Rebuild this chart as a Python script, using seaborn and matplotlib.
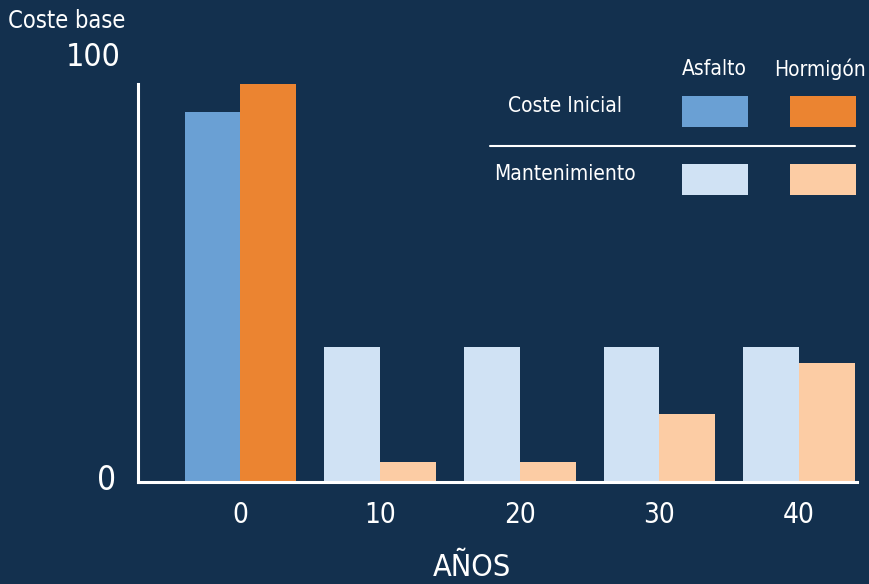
import matplotlib
matplotlib.use("Agg")
import matplotlib.pyplot as plt
import seaborn as sns
import pandas as pd
from matplotlib.patches import Rectangle
from matplotlib.lines import Line2D

# ---- data ----
years = ["0", "10", "20", "30", "40"]
materials = ["Asfalto", "Hormigón"]
initial_years = ["0"]
initial_asfalto = [93]
initial_hormigon = [100]
mant_years = ["10", "20", "30", "40"]
mant_asfalto = [34, 34, 34, 34]
mant_hormigon = [5, 5, 17, 30]
row_labels = ["Coste Inicial", "Mantenimiento"]

# ---- style ----
BG = "#13304e"
C_ASF_INI = "#6aa0d4"
C_HOR_INI = "#eb8431"
C_ASF_MAN = "#d0e2f4"
C_HOR_MAN = "#fccca4"
WHITE = "#ffffff"

sns.set_theme(style="white")
plt.rcParams['font.family'] = ['DejaVu Sans']
plt.rcParams['font.stretch'] = 'condensed'

W, H = 869, 584
fig = plt.figure(figsize=(W / 100, H / 100), dpi=100, facecolor=BG)
ax = fig.add_axes([138 / W, (H - 482) / H, (857 - 138) / W, (482 - 84) / H])
ax.set_facecolor(BG)

df_ini = pd.DataFrame({
    "year": initial_years * 2,
    "material": ["Asfalto"] * len(initial_years) + ["Hormigón"] * len(initial_years),
    "cost": initial_asfalto + initial_hormigon,
})
df_man = pd.DataFrame({
    "year": mant_years * 2,
    "material": ["Asfalto"] * len(mant_years) + ["Hormigón"] * len(mant_years),
    "cost": mant_asfalto + mant_hormigon,
})

common = dict(x="year", y="cost", hue="material", order=years, hue_order=materials,
              width=0.80, gap=0, saturation=1, legend=False, errorbar=None, ax=ax,
              linewidth=0)
sns.barplot(data=df_ini, palette=[C_ASF_INI, C_HOR_INI], **common)
sns.barplot(data=df_man, palette=[C_ASF_MAN, C_HOR_MAN], **common)

ax.set_ylim(0, 100)
ax.set_xlim(-0.733, 4.414)
for s in ["top", "right"]:
    ax.spines[s].set_visible(False)
for s in ["left", "bottom"]:
    ax.spines[s].set_color(WHITE)
    ax.spines[s].set_linewidth(2.2)
ax.set_yticks([])
ax.set_ylabel("")
ax.tick_params(axis="x", length=0, pad=14, labelsize=20, labelcolor=WHITE)
ax.set_xlabel("")

# axis texts
fig.text(472 / W, 1 - 567 / H, "AÑOS", ha="center", va="center", color=WHITE, fontsize=22)
fig.text(116 / W, 1 - 480 / H, "0", ha="right", va="center", color=WHITE, fontsize=24)
fig.text(121 / W, 1 - 57 / H, "100", ha="right", va="center", color=WHITE, fontsize=23)
fig.text(8 / W, 1 - 21 / H, "Coste base", ha="left", va="center", color=WHITE, fontsize=17)

# custom legend table
fig.text(714 / W, 1 - 69 / H, materials[0], ha="center", va="center", color=WHITE, fontsize=15)
fig.text(820 / W, 1 - 69 / H, materials[1], ha="center", va="center", color=WHITE, fontsize=15)
fig.text(565 / W, 1 - 106 / H, row_labels[0], ha="center", va="center", color=WHITE, fontsize=15)
fig.text(565 / W, 1 - 174 / H, row_labels[1], ha="center", va="center", color=WHITE, fontsize=15)

def swatch(x0, y0, x1, y1, color):
    fig.add_artist(Rectangle((x0 / W, 1 - y1 / H), (x1 - x0) / W, (y1 - y0) / H,
                             transform=fig.transFigure, facecolor=color, edgecolor="none"))

swatch(682, 96, 748, 127, C_ASF_INI)
swatch(790, 96, 856, 127, C_HOR_INI)
swatch(682, 164, 748, 195, C_ASF_MAN)
swatch(790, 164, 856, 195, C_HOR_MAN)
fig.add_artist(Line2D([490 / W, 855 / W], [1 - 146 / H, 1 - 146 / H],
                      transform=fig.transFigure, color=WHITE, linewidth=1.5))

fig.savefig("out.png", dpi=100, facecolor=BG)
